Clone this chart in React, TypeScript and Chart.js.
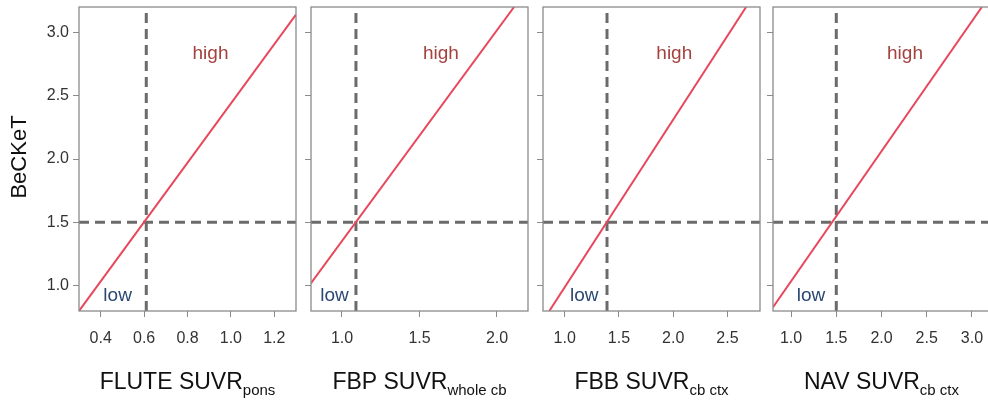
import React, { useEffect, useRef } from 'react';
import Chart from 'chart.js/auto';

const FONT = '"Liberation Sans", Arial, Helvetica, sans-serif';

// panel data
const panelNames = ['FLUTE SUVR', 'FBP SUVR', 'FBB SUVR', 'NAV SUVR'];
const panelSubs = ['pons', 'whole cb', 'cb ctx', 'cb ctx'];
const xMins = [0.3, 0.8, 0.8, 0.8];
const xMaxs = [1.3, 2.2, 2.8, 3.2];
const xTicks = [
  [0.4, 0.6, 0.8, 1.0, 1.2],
  [1.0, 1.5, 2.0],
  [1.0, 1.5, 2.0, 2.5],
  [1.0, 1.5, 2.0, 2.5, 3.0],
];
const yTicks = [1.0, 1.5, 2.0, 2.5, 3.0];
const yMin = 0.8;
const yMax = 3.2;
const becketCut = 1.5;
const suvrCuts = [0.61, 1.09, 1.39, 1.5];
const lineStartX = [0.3, 0.8, 0.858, 0.8];
const lineStartY = [0.8, 1.02, 0.8, 0.83];
const lineEndX = [1.3, 2.11, 2.672, 3.11];
const lineEndY = [3.14, 3.2, 3.2, 3.2];
const highX = [0.906, 1.638, 2.01, 2.26];
const highY = [2.83, 2.83, 2.83, 2.83];
const lowX = [0.478, 0.952, 1.18, 1.22];
const lowY = [0.92, 0.92, 0.92, 0.92];

// layout
const PLOT_LEFTS = [79, 311, 543, 773];
const PLOT_W = 217;
const PAD_RIGHT = 3;
const X_AXIS_H = 90;
const TOP_PAD = 7;

const RED = '#e8475b';
const DASH = '#6b6b6b';
const FRAME = '#8a8a8a';
const HIGH_COLOR = '#a3423f';
const LOW_COLOR = '#2a4871';

const makeDecor = (i: number) => ({
  id: 'decor' + i,
  afterDatasetsDraw(chart: any) {
    const { ctx, chartArea, scales } = chart;
    const { x, y } = scales;
    ctx.save();

    // region labels
    ctx.font = `19px ${FONT}`;
    ctx.textAlign = 'center';
    ctx.textBaseline = 'middle';
    ctx.fillStyle = HIGH_COLOR;
    ctx.fillText('high', x.getPixelForValue(highX[i]), y.getPixelForValue(highY[i]));
    ctx.fillStyle = LOW_COLOR;
    ctx.fillText('low', x.getPixelForValue(lowX[i]), y.getPixelForValue(lowY[i]));

    // box around plot
    ctx.strokeStyle = FRAME;
    ctx.lineWidth = 1.3;
    ctx.strokeRect(chartArea.left, chartArea.top, chartArea.right - chartArea.left, chartArea.bottom - chartArea.top);

    // x title with subscript
    ctx.fillStyle = '#111';
    ctx.textAlign = 'left';
    ctx.textBaseline = 'alphabetic';
    ctx.font = `23px ${FONT}`;
    const mainW = ctx.measureText(panelNames[i]).width;
    ctx.font = `15px ${FONT}`;
    const subW = ctx.measureText(panelSubs[i]).width;
    const cx = (chartArea.left + chartArea.right) / 2;
    const start = cx - (mainW + subW) / 2;
    ctx.font = `23px ${FONT}`;
    ctx.fillText(panelNames[i], start, 389);
    ctx.font = `15px ${FONT}`;
    ctx.fillText(panelSubs[i], start + mainW, 395);

    // y title only on first panel
    if (i === 0) {
      ctx.font = `22px ${FONT}`;
      ctx.textAlign = 'center';
      ctx.textBaseline = 'middle';
      ctx.translate(20, (chartArea.top + chartArea.bottom) / 2 - 2);
      ctx.rotate(-Math.PI / 2);
      ctx.fillText('BeCKeT', 0, 0);
    }
    ctx.restore();
  },
});

const Panel: React.FC<{ i: number }> = ({ i }) => {
  const canvasRef = useRef<HTMLCanvasElement | null>(null);
  const yW = i === 0 ? PLOT_LEFTS[0] : 10;

  useEffect(() => {
    if (!canvasRef.current) return;
    const chart = new Chart(canvasRef.current, {
      type: 'line',
      data: {
        datasets: [
          {
            data: [
              { x: lineStartX[i], y: lineStartY[i] },
              { x: lineEndX[i], y: lineEndY[i] },
            ],
            borderColor: RED,
            borderWidth: 2,
            pointRadius: 0,
          },
          {
            data: [
              { x: suvrCuts[i], y: yMin },
              { x: suvrCuts[i], y: yMax },
            ],
            borderColor: DASH,
            borderWidth: 3,
            borderDash: [10, 6],
            pointRadius: 0,
          },
          {
            data: [
              { x: xMins[i], y: becketCut },
              { x: xMaxs[i], y: becketCut },
            ],
            borderColor: DASH,
            borderWidth: 3,
            borderDash: [10, 6],
            pointRadius: 0,
          },
        ],
      },
      options: {
        animation: false,
        responsive: true,
        maintainAspectRatio: false,
        layout: { padding: { top: TOP_PAD, right: PAD_RIGHT, left: 0, bottom: 0 } },
        plugins: { legend: { display: false }, tooltip: { enabled: false } },
        scales: {
          x: {
            type: 'linear',
            min: xMins[i],
            max: xMaxs[i],
            afterBuildTicks: (s: any) => {
              s.ticks = xTicks[i].map(v => ({ value: v }));
            },
            afterFit: (s: any) => {
              s.height = X_AXIS_H;
              s.paddingLeft = 0;
              s.paddingRight = 0;
            },
            grid: { drawOnChartArea: false, drawTicks: true, tickLength: 6, color: FRAME, tickColor: FRAME },
            border: { display: false },
            ticks: {
              color: '#333',
              font: { family: FONT, size: 16 },
              padding: 12,
              maxRotation: 0,
              autoSkip: false,
              callback: (v: any) => Number(v).toFixed(1),
            },
          },
          y: {
            type: 'linear',
            min: yMin,
            max: yMax,
            afterBuildTicks: (s: any) => {
              s.ticks = yTicks.map(v => ({ value: v }));
            },
            afterFit: (s: any) => {
              s.width = yW;
              s.paddingTop = 0;
              s.paddingBottom = 0;
            },
            grid: { drawOnChartArea: false, drawTicks: true, tickLength: 6, color: FRAME, tickColor: FRAME },
            border: { display: false },
            ticks: {
              color: '#333',
              font: { family: FONT, size: 16 },
              padding: 4,
              autoSkip: false,
              callback: (v: any) => (i === 0 ? Number(v).toFixed(1) : ''),
            },
          },
        },
      },
      plugins: [makeDecor(i)],
    });
    return () => chart.destroy();
  }, [i, yW]);

  const left = PLOT_LEFTS[i] - yW;
  const width = yW + PLOT_W + PAD_RIGHT;
  return (
    <div style={{ position: 'absolute', left, top: 0, width, height: 401 }}>
      <canvas ref={canvasRef} />
    </div>
  );
};

const App: React.FC = () => (
  <div style={{ position: 'fixed', left: 0, top: 0, width: 988, height: 401, overflow: 'hidden', background: '#fff' }}>
    {panelNames.map((_, i) => (
      <Panel key={i} i={i} />
    ))}
  </div>
);

export default App;
